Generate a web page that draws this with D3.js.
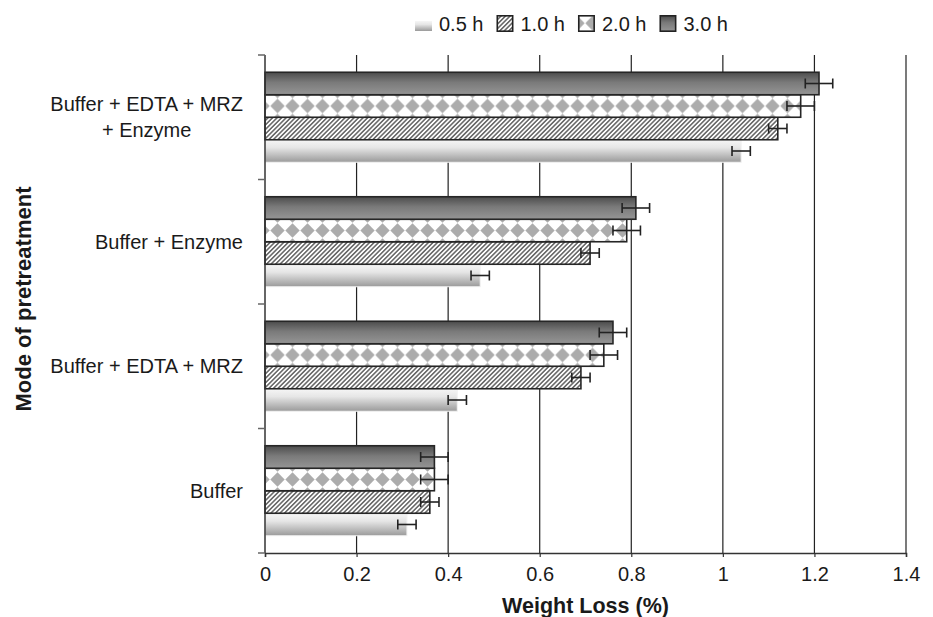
<!DOCTYPE html>
<html>
<head>
<meta charset="utf-8">
<script src="https://cdn.jsdelivr.net/npm/d3@7"></script>
<style>
  html, body { margin: 0; padding: 0; background: #fff; }
  svg { display: block; }
  text { font-family: "Liberation Sans", Arial, Helvetica, sans-serif; fill: #1a1a1a; }
</style>
</head>
<body>
<svg id="chart" width="933" height="617"></svg>
<script>
// ---- data ----
const categories = ["Buffer + EDTA + MRZ + Enzyme", "Buffer + Enzyme", "Buffer + EDTA + MRZ", "Buffer"];
const categoryLabels = [["Buffer + EDTA + MRZ", "+ Enzyme"], ["Buffer + Enzyme"], ["Buffer + EDTA + MRZ"], ["Buffer"]];
const seriesNames = ["0.5 h", "1.0 h", "2.0 h", "3.0 h"];
const values05 = [1.04, 0.47, 0.42, 0.31];
const values10 = [1.12, 0.71, 0.69, 0.36];
const values20 = [1.17, 0.79, 0.74, 0.37];
const values30 = [1.21, 0.81, 0.76, 0.37];
const errors05 = [0.02, 0.02, 0.02, 0.02];
const errors10 = [0.02, 0.02, 0.02, 0.02];
const errors20 = [0.03, 0.03, 0.03, 0.03];
const errors30 = [0.03, 0.03, 0.03, 0.03];
const xTicks = [0, 0.2, 0.4, 0.6, 0.8, 1, 1.2, 1.4];
const xTitle = "Weight Loss (%)";
const yTitle = "Mode of pretreatment";

const seriesValues = [values05, values10, values20, values30];
const seriesErrors = [errors05, errors10, errors20, errors30];
const rows = [];
categories.forEach((c, ci) => {
  seriesNames.forEach((s, si) => {
    rows.push({ cat: c, ci: ci, series: s, si: si, value: seriesValues[si][ci], err: seriesErrors[si][ci] });
  });
});

// ---- layout ----
const svg = d3.select("#chart");
const pLeft = 265, pRight = 906, pTop = 55, pBottom = 553;

const x = d3.scaleLinear().domain([0, 1.4]).range([pLeft, pRight]);
const y = d3.scaleBand().domain(categories).range([pTop, pBottom]).paddingInner(0.2771).paddingOuter(0.13855);
const yInner = d3.scaleBand().domain(seriesNames.slice().reverse()).range([0, y.bandwidth()]);

// ---- defs ----
const defs = svg.append("defs");
const g30 = defs.append("linearGradient").attr("id", "grad30").attr("x1", 0).attr("y1", 0).attr("x2", 0).attr("y2", 1);
g30.append("stop").attr("offset", "0%").attr("stop-color", "#4c4c4c");
g30.append("stop").attr("offset", "45%").attr("stop-color", "#7a7a7a");
g30.append("stop").attr("offset", "100%").attr("stop-color", "#959595");

const g05 = defs.append("linearGradient").attr("id", "grad05").attr("x1", 0).attr("y1", 0).attr("x2", 0).attr("y2", 1);
g05.append("stop").attr("offset", "0%").attr("stop-color", "#f6f6f6");
g05.append("stop").attr("offset", "35%").attr("stop-color", "#e6e6e6");
g05.append("stop").attr("offset", "100%").attr("stop-color", "#9a9a9a");

const hatch = defs.append("pattern").attr("id", "hatch").attr("patternUnits", "userSpaceOnUse")
  .attr("width", 3.2).attr("height", 10).attr("patternTransform", "rotate(45)");
hatch.append("rect").attr("width", 3.2).attr("height", 10).attr("fill", "#ffffff");
hatch.append("line").attr("x1", 0.8).attr("y1", 0).attr("x2", 0.8).attr("y2", 10).attr("stroke", "#3a3a3a").attr("stroke-width", 1.2);

// rotated checkerboard: gray diamond in the centre of each 15x15 tile, white elsewhere
function diamondPattern(id, yOff) {
  const p = defs.append("pattern").attr("id", id).attr("patternUnits", "userSpaceOnUse")
    .attr("x", 0).attr("y", yOff).attr("width", 15).attr("height", 15);
  p.append("rect").attr("width", 15).attr("height", 15).attr("fill", "#ffffff");
  const r = 7.2, cx = 7.5, cy = 7.5;
  p.append("path").attr("d", `M${cx},${cy - r}L${cx + r},${cy}L${cx},${cy + r}L${cx - r},${cy}Z`).attr("fill", "#acacac");
}
categories.forEach((c, ci) => {
  const cy = y(c) + yInner("2.0 h") + yInner.bandwidth() / 2;
  diamondPattern("diam" + ci, cy - 7.5);
});
diamondPattern("diamLegend", 15.5 - 7.5 + 7.7);

function fillFor(d) {
  if (d.series === "0.5 h") return "url(#grad05)";
  if (d.series === "1.0 h") return "url(#hatch)";
  if (d.series === "2.0 h") return "url(#diam" + d.ci + ")";
  return "url(#grad30)";
}

// ---- gridlines ----
svg.append("g").selectAll("line").data(xTicks.filter(t => t > 0)).join("line")
  .attr("x1", d => x(d)).attr("x2", d => x(d))
  .attr("y1", pTop).attr("y2", pBottom)
  .attr("stroke", "#222").attr("stroke-width", 1.2);

// ---- bars ----
const barG = svg.append("g");
barG.selectAll("rect").data(rows).join("rect")
  .attr("x", x(0))
  .attr("y", d => y(d.cat) + yInner(d.series))
  .attr("width", d => x(d.value) - x(0))
  .attr("height", yInner.bandwidth())
  .attr("fill", d => fillFor(d))
  .attr("stroke", d => d.series === "0.5 h" ? "#f2f2f2" : "#262626")
  .attr("stroke-width", d => d.series === "0.5 h" ? 1 : 1.6);

// ---- error bars ----
const errG = svg.append("g").attr("stroke", "#222").attr("stroke-width", 1.6).attr("fill", "none");
rows.forEach(d => {
  const cy = y(d.cat) + yInner(d.series) + yInner.bandwidth() / 2;
  const x0 = x(d.value - d.err), x1 = x(d.value + d.err);
  errG.append("line").attr("x1", x0).attr("x2", x1).attr("y1", cy).attr("y2", cy);
  errG.append("line").attr("x1", x0).attr("x2", x0).attr("y1", cy - 5).attr("y2", cy + 5);
  errG.append("line").attr("x1", x1).attr("x2", x1).attr("y1", cy - 5).attr("y2", cy + 5);
});

// ---- x axis ----
const xAxis = d3.axisBottom(x).tickValues(xTicks).tickSize(4).tickPadding(10).tickFormat(d3.format("~g"));
const xg = svg.append("g").attr("transform", `translate(0,${pBottom})`).call(xAxis);
xg.select(".domain").attr("stroke", "#333").attr("stroke-width", 1.5);
xg.selectAll(".tick line").attr("stroke", "#333").attr("stroke-width", 1.2);
xg.selectAll(".tick text").attr("font-size", 20).attr("fill", "#1a1a1a")
  .attr("font-family", '"Liberation Sans", Arial, sans-serif');

// ---- y axis (line + ticks at band boundaries) ----
svg.append("line").attr("x1", pLeft).attr("x2", pLeft).attr("y1", pTop).attr("y2", pBottom)
  .attr("stroke", "#333").attr("stroke-width", 1.5);
const boundaries = categories.map(c => y(c) - y.step() * y.paddingInner() / 2);
boundaries.push(pBottom);
svg.append("g").selectAll("line").data(boundaries).join("line")
  .attr("x1", pLeft - 7).attr("x2", pLeft).attr("y1", d => d).attr("y2", d => d)
  .attr("stroke", "#666").attr("stroke-width", 1.5);

// category labels
const labG = svg.append("g").attr("font-size", 20);
categories.forEach((c, ci) => {
  const lines = categoryLabels[ci];
  const cy = y(c) + y.bandwidth() / 2;
  const t = labG.append("text").attr("text-anchor", "middle");
  const spans = lines.map((ln, li) => t.append("tspan").text(ln)
    .attr("y", cy + (li - (lines.length - 1) / 2) * 26).attr("dy", "0.35em"));
  let maxW = 0;
  spans.forEach(s => { maxW = Math.max(maxW, s.node().getComputedTextLength()); });
  spans.forEach(s => s.attr("x", 243 - maxW / 2));
});

// ---- titles ----
svg.append("text").attr("x", (pLeft + pRight) / 2).attr("y", 613).attr("text-anchor", "middle")
  .attr("font-size", 21.5).attr("font-weight", "bold").text(xTitle);
svg.append("text").attr("transform", `translate(31,${(pTop + pBottom) / 2 - 5}) rotate(-90)`)
  .attr("text-anchor", "middle").attr("font-size", 22).attr("font-weight", "bold").text(yTitle);

// ---- legend ----
const legend = svg.append("g");
let lx = 415;
seriesNames.forEach((s, si) => {
  if (s === "0.5 h") {
    legend.append("rect").attr("x", lx).attr("y", 21).attr("width", 17).attr("height", 10).attr("fill", "url(#grad05)");
  } else {
    const f = s === "1.0 h" ? "url(#hatch)" : s === "2.0 h" ? "url(#diamLegend)" : "url(#grad30)";
    legend.append("rect").attr("x", lx + 0.8).attr("y", 15.8).attr("width", 15.4).attr("height", 15.4)
      .attr("fill", f).attr("stroke", "#222").attr("stroke-width", 1.6);
  }
  const t = legend.append("text").attr("x", lx + 24).attr("y", 31).attr("font-size", 20).text(s);
  lx = lx + 24 + t.node().getComputedTextLength() + 13;
});
</script>
</body>
</html>
